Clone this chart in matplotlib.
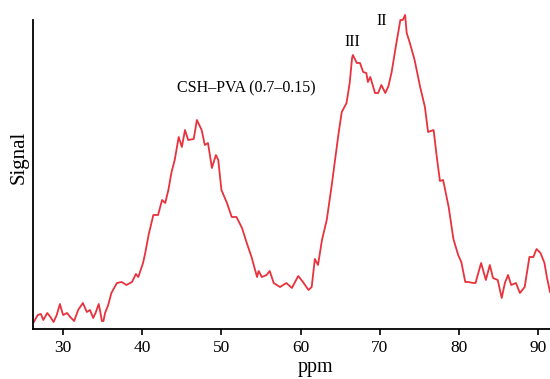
import matplotlib
matplotlib.use("Agg")
import matplotlib.pyplot as plt

plt.rcParams["font.family"] = ["Liberation Serif", "DejaVu Serif"]

# chemical shift (ppm) and signal (arbitrary units)
ppm = [26.3, 26.8, 27.2, 27.5, 28.0, 28.4, 28.8, 29.2, 29.6, 30.0,
       30.5, 30.9, 31.4, 31.9, 32.5, 33.0, 33.4, 33.8, 34.1, 34.5,
       34.7, 34.9, 35.1, 35.3, 35.7, 36.1, 36.8, 37.4, 38.0, 38.7,
       39.2, 39.5, 40.1, 40.4, 40.8, 41.4, 42.0, 42.5, 42.9, 43.3,
       43.7, 44.1, 44.6, 45.0, 45.4, 45.8, 46.5, 46.9, 47.5, 47.9,
       48.3, 48.8, 49.3, 49.6, 50.0, 50.7, 51.3, 51.9, 52.6, 53.2,
       53.8, 54.5, 54.7, 55.1, 55.7, 56.1, 56.6, 57.4, 58.2, 58.9,
       59.7, 60.3, 61.0, 61.4, 61.8, 62.2, 62.7, 63.3, 63.9, 64.3,
       64.8, 65.2, 65.8, 66.2, 66.5, 66.6, 67.1, 67.5, 67.9, 68.3,
       68.5, 68.8, 69.4, 69.8, 70.2, 70.7, 71.1, 71.5, 72.1, 72.6,
       72.9, 73.2, 73.4, 73.8, 74.4, 75.1, 75.7, 76.1, 76.8, 77.2,
       77.6, 78.0, 78.7, 79.3, 79.9, 80.3, 80.8, 81.2, 81.8, 82.1,
       82.3, 82.8, 83.4, 83.9, 84.3, 84.9, 85.4, 85.8, 86.2, 86.6,
       87.2, 87.7, 88.3, 88.9, 89.4, 89.8, 90.3, 90.8, 91.1, 91.5]
signal = [7, 14, 15, 9, 16, 12, 7, 14, 25, 14,
          16, 12, 8, 19, 26, 17, 19, 11, 16, 25,
          17, 8, 8, 16, 24, 36, 46, 47, 44, 47,
          55, 52, 66, 77, 94, 114, 114, 129, 126, 139,
          157, 169, 192, 182, 199, 189, 190, 209, 199, 184,
          186, 161, 174, 169, 139, 126, 112, 112, 101, 86,
          72, 52, 58, 52, 54, 58, 46, 42, 46, 41,
          53, 47, 39, 42, 70, 64, 89, 109, 142, 166,
          196, 217, 226, 246, 271, 274, 266, 266, 257, 256,
          247, 252, 236, 236, 244, 236, 243, 257, 286, 309,
          309, 314, 296, 286, 269, 242, 222, 197, 199, 172,
          148, 149, 122, 90, 74, 67, 47, 47, 46, 46,
          52, 66, 49, 64, 51, 49, 31, 46, 54, 44,
          46, 36, 42, 72, 72, 80, 76, 66, 52, 37]

fig = plt.figure(figsize=(5.5, 3.79), dpi=100)
ax = fig.add_axes([33 / 550, 1 - 329 / 379, 517 / 550, 309 / 379])

ax.plot(ppm, signal, color="#e8323c", lw=1.3, clip_on=False)
ax.set_xlim(26.2, 91.5)
ax.set_ylim(0, 309)

ax.spines["top"].set_visible(False)
ax.spines["right"].set_visible(False)
ax.spines["left"].set_linewidth(1.3)
ax.spines["bottom"].set_linewidth(1.3)
ax.set_yticks([])
ax.set_xticks([30, 40, 50, 60, 70, 80, 90])
ax.tick_params(axis="x", direction="out", length=4, width=1.2, labelsize=12.5, pad=4)

# axis labels
fig.text(315 / 550, 0.005, "ppm", ha="center", va="bottom", fontsize=14.5)
fig.text(19 / 550, 1 - 157 / 379, "Signal", ha="center", va="center",
         rotation=90, fontsize=15)

# peak annotations
fig.text(246 / 550, 1 - 88 / 379, "CSH–PVA (0.7–0.15)", ha="center", va="center",
         fontsize=11.5)
fig.text(352.5 / 550, 1 - 42 / 379, "III", ha="center", va="center", fontsize=11.5)
fig.text(382 / 550, 1 - 21 / 379, "II", ha="center", va="center", fontsize=11.5)

fig.savefig("out.png", dpi=100)
